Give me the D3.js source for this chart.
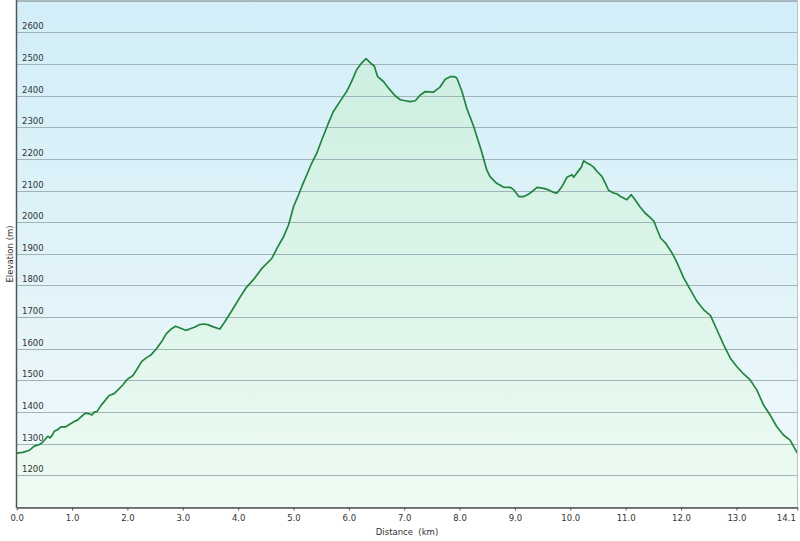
<!DOCTYPE html>
<html>
<head>
<meta charset="utf-8">
<script src="https://cdn.jsdelivr.net/npm/d3@7"></script>
<style>
html,body{margin:0;padding:0;background:#fff;}
svg{display:block;font-family:"DejaVu Sans",Verdana,sans-serif;}
</style>
</head>
<body>
<svg id="chart" width="800" height="541"></svg>
<script>
const distanceKm = [0.00,0.11,0.23,0.32,0.41,0.47,0.56,0.60,0.64,0.68,0.74,0.80,0.89,0.95,1.04,1.10,1.16,1.24,1.31,1.36,1.40,1.45,1.52,1.61,1.67,1.76,1.82,1.92,1.99,2.10,2.17,2.26,2.34,2.43,2.52,2.61,2.70,2.79,2.87,2.94,3.05,3.12,3.21,3.30,3.37,3.45,3.55,3.67,3.76,3.91,4.06,4.15,4.28,4.43,4.61,4.70,4.82,4.91,5.00,5.09,5.15,5.24,5.33,5.42,5.51,5.63,5.72,5.84,5.96,6.05,6.14,6.23,6.31,6.38,6.46,6.52,6.63,6.72,6.84,6.93,7.02,7.11,7.20,7.29,7.38,7.53,7.65,7.74,7.83,7.91,7.95,8.04,8.13,8.25,8.40,8.49,8.55,8.67,8.79,8.92,8.98,9.07,9.16,9.25,9.31,9.40,9.52,9.61,9.70,9.76,9.85,9.94,10.03,10.06,10.15,10.20,10.24,10.30,10.36,10.42,10.48,10.57,10.63,10.69,10.78,10.84,10.90,10.97,11.02,11.10,11.17,11.26,11.35,11.44,11.51,11.57,11.63,11.72,11.84,11.93,12.05,12.17,12.29,12.41,12.53,12.65,12.77,12.89,13.01,13.13,13.25,13.37,13.49,13.61,13.73,13.85,13.97,14.10];
const elevationM = [1270,1272,1279,1292,1297,1304,1323,1318,1326,1339,1344,1353,1353,1360,1370,1374,1384,1396,1394,1390,1400,1401,1420,1439,1452,1458,1468,1486,1502,1515,1534,1560,1571,1581,1599,1620,1647,1662,1671,1666,1658,1662,1668,1676,1678,1676,1669,1662,1685,1727,1770,1794,1819,1854,1886,1917,1954,1991,2049,2086,2113,2150,2187,2218,2260,2313,2350,2382,2413,2445,2482,2503,2517,2505,2493,2460,2444,2423,2399,2387,2384,2381,2384,2402,2413,2411,2428,2452,2460,2460,2456,2415,2360,2305,2222,2165,2144,2123,2111,2110,2102,2081,2081,2089,2097,2110,2107,2102,2094,2092,2113,2142,2150,2142,2163,2174,2194,2187,2182,2174,2161,2145,2124,2101,2092,2090,2082,2076,2071,2087,2071,2048,2029,2015,2003,1976,1950,1934,1902,1871,1823,1786,1749,1723,1705,1659,1612,1570,1543,1520,1501,1469,1422,1390,1353,1327,1311,1270];
const yTickValues = [1200,1300,1400,1500,1600,1700,1800,1900,2000,2100,2200,2300,2400,2500,2600];
const yGridValues = [1100,1200,1300,1400,1500,1600,1700,1800,1900,2000,2100,2200,2300,2400,2500,2600,2700];
const xTickValues = [0,1,2,3,4,5,6,7,8,9,10,11,12,13,14.1];
const xTickLabels = ["0.0","1.0","2.0","3.0","4.0","5.0","6.0","7.0","8.0","9.0","10.0","11.0","12.0","13.0","14.1"];
const xTitle = "Distance\u00a0\u00a0(km)";
const yTitle = "Elevation (m)";

const data = distanceKm.map((d,i)=>({d, e: elevationM[i]}));
const svg = d3.select("#chart");
const x = d3.scaleLinear().domain([0,14.1]).range([16.7,797.3]);
const y = d3.scaleLinear().domain([1100,2700]).range([506.8,0.8]);
const pL = 16.5, pR = 797.5, pT = 0.5, pB = 507.5;

const defs = svg.append("defs");
const bg = defs.append("linearGradient").attr("id","bg").attr("x1",0).attr("y1",0).attr("x2",0).attr("y2",1);
bg.append("stop").attr("offset","0%").attr("stop-color","#d2eef8");
bg.append("stop").attr("offset","55%").attr("stop-color","#e1f3f9");
bg.append("stop").attr("offset","100%").attr("stop-color","#f2fafc");
const ag = defs.append("linearGradient").attr("id","ag").attr("gradientUnits","userSpaceOnUse")
  .attr("x1",0).attr("y1",60).attr("x2",0).attr("y2",pB);
ag.append("stop").attr("offset","0%").attr("stop-color","#cdefe1");
ag.append("stop").attr("offset","100%").attr("stop-color","#eefbf2");

svg.append("rect").attr("x",pL).attr("y",pT).attr("width",pR-pL).attr("height",pB-pT).attr("fill","url(#bg)");

const area = d3.area().x(p=>x(p.d)).y0(y(1100)).y1(p=>y(p.e));
svg.append("path").datum(data).attr("d",area).attr("fill","url(#ag)");

svg.append("g").selectAll("line").data(yGridValues).join("line")
  .attr("x1",pL).attr("x2",pR)
  .attr("y1",v=>Math.round(y(v))+0.5).attr("y2",v=>Math.round(y(v))+0.5)
  .attr("stroke","#9fb3b8").attr("stroke-width",1);

const line = d3.line().x(p=>x(p.d)).y(p=>y(p.e));
svg.append("path").datum(data).attr("d",line).attr("fill","none")
  .attr("stroke","#22843f").attr("stroke-width",1.7).attr("stroke-linejoin","round");

// borders
svg.append("line").attr("x1",pR).attr("x2",pR).attr("y1",pT).attr("y2",pB).attr("stroke","#b8c6cc");
svg.append("line").attr("x1",pL).attr("x2",pR).attr("y1",pT).attr("y2",pT).attr("stroke","#a9bcc2");

// y labels
svg.append("g").selectAll("text").data(yTickValues).join("text")
  .attr("x",22).attr("y",v=>Math.round(y(v))-3)
  .attr("font-size","8.5px").attr("fill","#333").text(v=>v);

// x axis
const xAxis = d3.axisBottom(x).tickValues(xTickValues).tickFormat((v,i)=>xTickLabels[i]).tickSize(3).tickSizeOuter(0);
const gx = svg.append("g").attr("transform",`translate(0,${pB})`).call(xAxis);
gx.select(".domain").attr("stroke","#555").attr("stroke-width",1.5);
gx.selectAll(".tick line").attr("stroke","#555");
gx.selectAll(".tick text").attr("font-size","8.5px").attr("fill","#333").attr("dy",0).attr("y",13.5)
  .attr("font-family","DejaVu Sans, Verdana, sans-serif");
gx.selectAll(".tick text").filter((v,i)=>i===xTickValues.length-1)
  .attr("text-anchor","end").attr("x",-2);

// left axis line
svg.append("line").attr("x1",pL).attr("x2",pL).attr("y1",0).attr("y2",pB+0.5).attr("stroke","#555").attr("stroke-width",1.5);

svg.append("text").attr("x",(pL+pR)/2).attr("y",535).attr("text-anchor","middle")
  .attr("font-size","8.5px").attr("fill","#333").text(xTitle);
svg.append("text").attr("transform",`translate(12.5,${(pT+pB)/2}) rotate(-90)`).attr("text-anchor","middle")
  .attr("font-size","8.5px").attr("fill","#333").text(yTitle);
</script>
</body>
</html>
